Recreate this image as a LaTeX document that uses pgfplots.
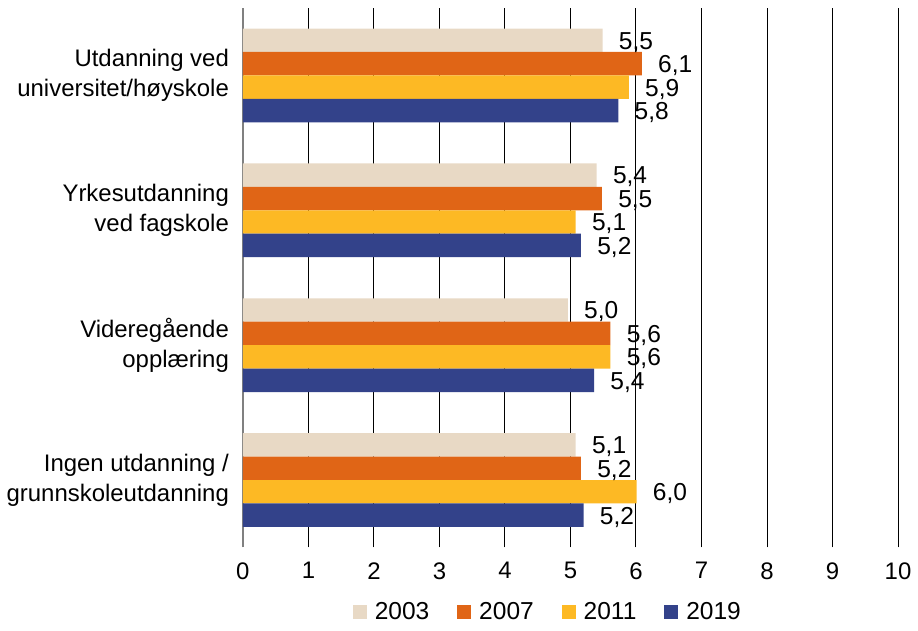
\documentclass[border=0pt]{standalone}
\usepackage{pgfplots}
\pgfplotsset{compat=1.18}
\usepackage{pgfplotstable}
\usepackage{fontspec}
\setmainfont{Liberation Sans}

\definecolor{c03}{HTML}{E8D9C5}
\definecolor{c07}{HTML}{E06516}
\definecolor{c11}{HTML}{FDB924}
\definecolor{c19}{HTML}{33428A}

% y: 3 = top category
\pgfplotstableread{
y x lab
3 5.49 5,5
2 5.40 5,4
1 4.96 5,0
0 5.08 5,1
}\tA
\pgfplotstableread{
y x lab
3 6.09 6,1
2 5.48 5,5
1 5.61 5,6
0 5.16 5,2
}\tB
\pgfplotstableread{
y x lab
3 5.89 5,9
2 5.08 5,1
1 5.61 5,6
0 6.01 6,0
}\tC
\pgfplotstableread{
y x lab
3 5.73 5,8
2 5.16 5,2
1 5.36 5,4
0 5.20 5,2
}\tD

\begin{document}
\begin{tikzpicture}
\begin{axis}[
    width=328.5pt, height=270.5pt, scale only axis,
    xbar, bar width=11.75pt,
    xmin=0, xmax=10, ymin=-0.5, ymax=3.5,
    xtick={1,...,10},
    extra x ticks={0},
    extra x tick style={grid style={color=gray, line width=0.9pt}},
    xmajorgrids,
    grid style={black, line width=0.5pt},
    ytick={0,1,2,3},
    yticklabels={{Ingen utdanning /\\grunnskoleutdanning},{Videregående\\opplæring},{Yrkesutdanning\\ved fagskole},{Utdanning ved\\universitet/høyskole}},
    yticklabel style={align=right, xshift=-3.5pt},
    xticklabel style={yshift=-4pt},
    tick label style={font=\fontsize{12}{15}\selectfont},
    /pgf/number format/assume math mode=true,
    major tick length=0pt,
    axis line style={draw=none},
    nodes near coords,
    point meta=explicit symbolic,
    nodes near coords style={anchor=west, inner sep=0pt, xshift=8pt, yshift=-1pt, font=\fontsize{12.3}{15}\selectfont, text=black},
    legend style={at={(0.467,-0.12)}, anchor=center, draw=none,
        font=\fontsize{12.3}{15}\selectfont, legend columns=-1,
        /tikz/every odd column/.append style={column sep=2pt},
        /tikz/every even column/.append style={column sep=12pt}},
    legend image code/.code={\fill[#1] (0pt,-3.5pt) rectangle (7pt,3.5pt);},
]
\addplot[fill=c03, draw=none, bar shift=17.625pt] table[x=x, y=y, meta=lab] {\tA};
\addplot[fill=c07, draw=none, bar shift=5.875pt] table[x=x, y=y, meta=lab] {\tB};
\addplot[fill=c11, draw=none, bar shift=-5.875pt] table[x=x, y=y, meta=lab] {\tC};
\addplot[fill=c19, draw=none, bar shift=-17.625pt] table[x=x, y=y, meta=lab] {\tD};
\legend{2003,2007,2011,2019}
\end{axis}
\path ([yshift=4pt]current axis.north);
\path ([yshift=-38pt]current axis.south);
\end{tikzpicture}
\end{document}
